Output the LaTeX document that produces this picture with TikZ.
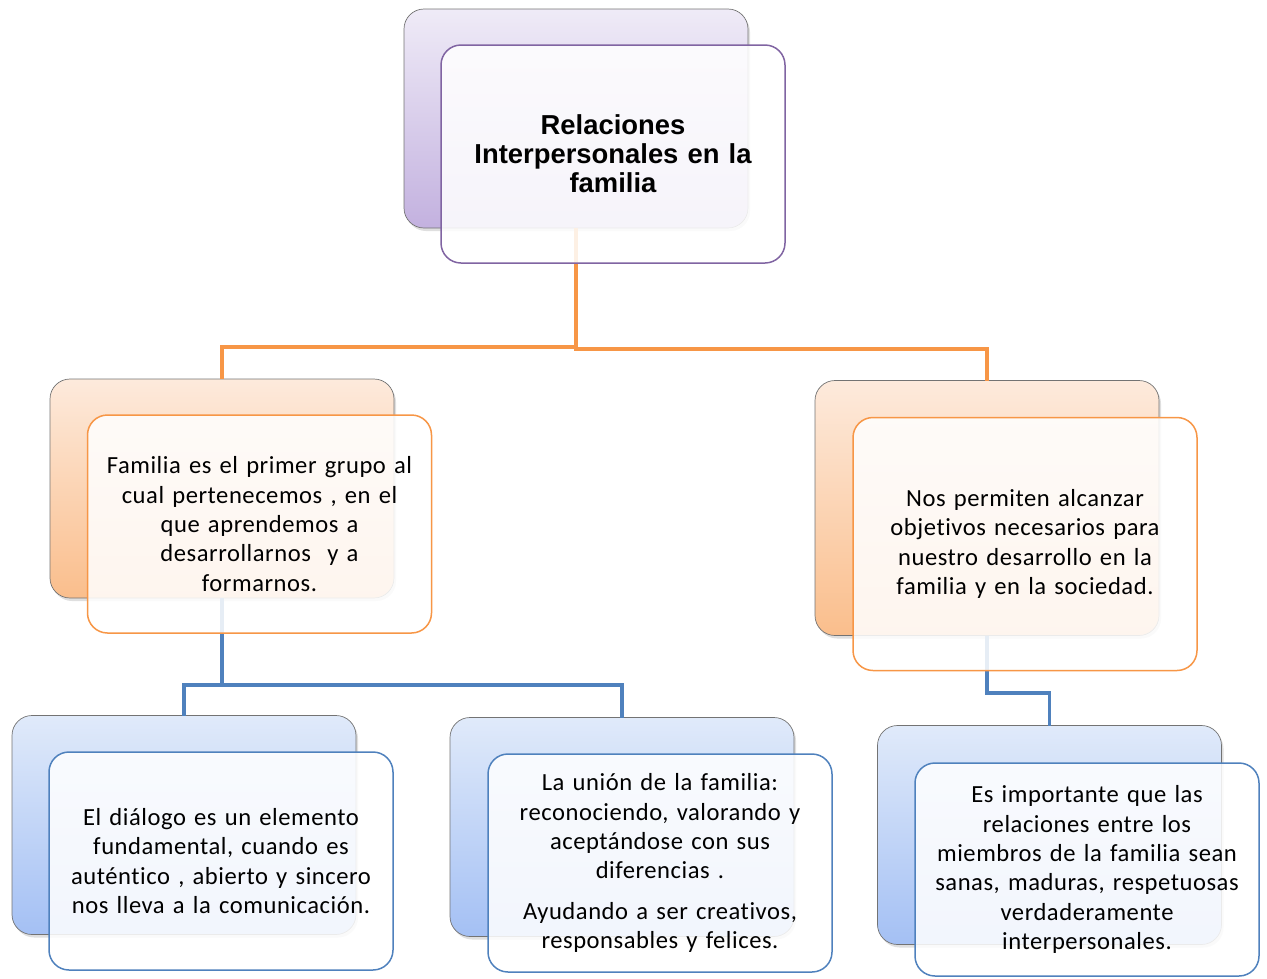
\documentclass[tikz,border=0pt]{standalone}
\usepackage{fontspec}
\setmainfont{Carlito}[LetterSpace=2.2,WordSpace=0.75,Ligatures=NoCommon]
\newfontfamily\titlefont{Liberation Sans}
\usetikzlibrary{shadows}
\definecolor{purpleline}{HTML}{8064A2}
\definecolor{orangeline}{HTML}{F79646}
\definecolor{blueline}{HTML}{4F81BD}
\definecolor{purpletop}{HTML}{EFEBF7}
\definecolor{purplebot}{HTML}{C3B1DF}
\definecolor{orangetop}{HTML}{FDEADC}
\definecolor{orangebot}{HTML}{FABE8C}
\definecolor{bluetop}{HTML}{E0EAFA}
\definecolor{bluebot}{HTML}{A4C0F4}
\tikzset{
  backbox/.style={draw=black!55, line width=0.7pt, rounded corners=20pt,
    minimum width=344pt, minimum height=219pt, inner sep=0pt, outer sep=0pt,
    drop shadow={opacity=0.25, shadow xshift=2pt, shadow yshift=-3pt}},
  frontbox/.style={rounded corners=20pt, fill=white, fill opacity=0.86, text opacity=1,
    line width=1.5pt, minimum width=344pt, minimum height=218pt, inner sep=0pt, outer sep=0pt,
    align=center, text width=330pt, font=\fontsize{24.6}{29.3}\selectfont},
  purpleback/.style={backbox, top color=purpletop, bottom color=purplebot},
  orangeback/.style={backbox, top color=orangetop, bottom color=orangebot},
  blueback/.style={backbox, top color=bluetop, bottom color=bluebot},
  orangelink/.style={draw=orangeline, line width=3.6pt},
  bluelink/.style={draw=blueline, line width=3.6pt},
}
\begin{document}
\begin{tikzpicture}[x=1pt,y=-1pt]
\useasboundingbox (0,0) rectangle (1267,978);
% back boxes
\node[purpleback] (tb) at (576,118.5) {};
\node[orangeback] (lb) at (222,488.5) {};
\node[orangeback, minimum height=255pt] (rb) at (987,508) {};
\node[blueback] (b1b) at (184,825) {};
\node[blueback] (b2b) at (622,827) {};
\node[blueback] (b3b) at (1049.5,835) {};
% connectors
\path[orangelink] (tb.south) |- (222,347) -- (lb.north);
\path[orangelink] (tb.south) |- (987,349) -- (rb.north);
\path[bluelink] (lb.south) |- (184,685) -- (b1b.north);
\path[bluelink] (lb.south) |- (622,685) -- (b2b.north);
\path[bluelink] (rb.south) |- (1049.5,693) -- (b3b.north);
% front boxes
\node[frontbox, draw=purpleline, font=\titlefont\bfseries\fontsize{27.4}{29}\selectfont, text width=310pt] (tf) at (613,154)
  {Relaciones\\Interpersonales en la\\familia};
\node[frontbox, draw=orangeline] (lf) at (259.5,524)
  {Familia es el primer grupo al\\cual pertenecemos , en el\\que aprendemos a\\desarrollarnos\ \ y a\\formarnos.};
\node[frontbox, draw=orangeline, minimum height=253pt] (rf) at (1025,544)
  {Nos permiten alcanzar\\objetivos necesarios para\\nuestro desarrollo en la\\familia y en la sociedad.};
\node[frontbox, draw=blueline] (b1f) at (221,861)
  {El diálogo es un elemento\\fundamental, cuando es\\auténtico , abierto y sincero\\nos lleva a la comunicación.};
\node[frontbox, draw=blueline] (b2f) at (660,863)
  {La unión de la familia:\\reconociendo, valorando y\\aceptándose con sus\\diferencias .\\[11pt]Ayudando a ser creativos,\\responsables y felices.};
\node[frontbox, draw=blueline, minimum height=213pt] (b3f) at (1087,869.5)
  {Es importante que las\\relaciones entre los\\miembros de la familia sean\\sanas, maduras, respetuosas\\verdaderamente\\interpersonales.};
\end{tikzpicture}
\end{document}
